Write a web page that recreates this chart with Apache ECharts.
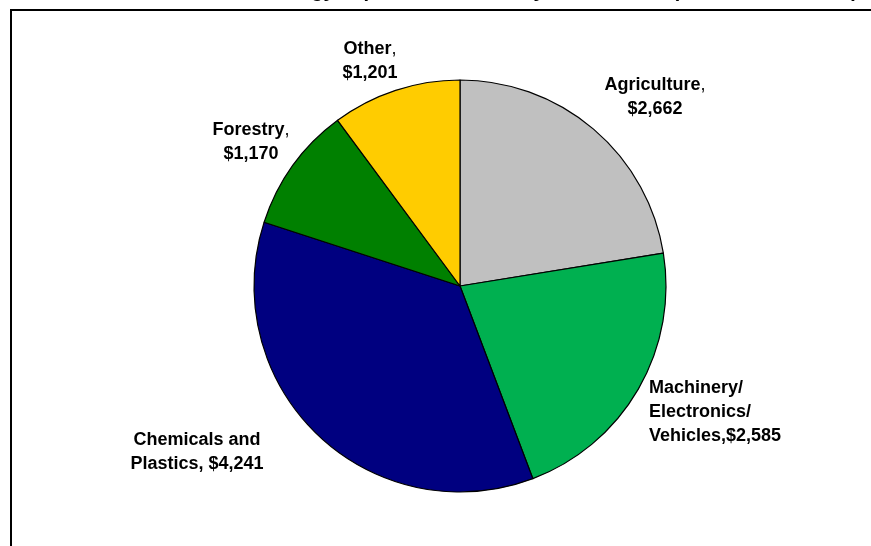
<!DOCTYPE html>
<html>
<head>
<meta charset="utf-8">
<script src="https://cdn.jsdelivr.net/npm/echarts@6/dist/echarts.min.js"></script>
<style>html,body{margin:0;padding:0;background:#fff;}#c{width:871px;height:546px;}</style>
</head>
<body>
<div id="c"></div>
<script>
const categories = ['Agriculture', 'Machinery/\nElectronics/\nVehicles', 'Chemicals and\nPlastics', 'Forestry', 'Other'];
const values = [2662, 2585, 4241, 1170, 1201];
const titleText = 'Biotechnology Imports to Canada by Sector, 2008 (Millions of Dollars)';

const colors = ['#C0C0C0', '#00B050', '#000080', '#008000', '#FFCC00'];
// label anchor layout (x, y, align)
const labelSpots = [
  {x: 655, y: 97, align: 'center'},
  {x: 649, y: 412, align: 'left'},
  {x: 197, y: 452, align: 'center'},
  {x: 251, y: 142, align: 'center'},
  {x: 370, y: 61, align: 'center'}
];

function fmt(v) { return '$' + v.toLocaleString('en-US'); }

function labelText(i) {
  const name = categories[i], v = fmt(values[i]);
  if (i === 1) return '{b|' + name + ',' + v + '}';
  if (i === 2) return '{b|' + name + ', ' + v + '}';
  return '{b|' + name + '}{n|,}\n{b|' + v + '}';
}

const chart = echarts.init(document.getElementById('c'), null, {renderer: 'canvas'});
const rich = {
  b: {fontFamily: 'Liberation Sans, Arial, sans-serif', fontWeight: 'bold', fontSize: 18, color: '#000', lineHeight: 24},
  n: {fontFamily: 'Liberation Sans, Arial, sans-serif', fontWeight: 'normal', fontSize: 18, color: '#000', lineHeight: 24}
};
chart.setOption({
  animation: false,
  backgroundColor: '#fff',
  graphic: [
    {type: 'rect', shape: {x: 11, y: 10, width: 900, height: 600}, style: {fill: 'none', stroke: '#000', lineWidth: 2}, z: 0},
    {type: 'text', x: 858, y: 1, style: {text: titleText, textAlign: 'right', textVerticalAlign: 'bottom', font: 'bold 20px Liberation Sans, Arial, sans-serif', fill: '#000'}, z: 10}
  ],
  series: [{
    type: 'pie',
    center: [460, 286],
    radius: 206,
    startAngle: 90,
    clockwise: true,
    silent: true,
    data: categories.map((c, i) => ({name: c, value: values[i], itemStyle: {color: colors[i]}})),
    itemStyle: {borderColor: '#000', borderWidth: 1.2},
    label: {
      show: true,
      position: 'outside',
      formatter: p => labelText(p.dataIndex),
      rich: rich,
      color: '#000'
    },
    labelLine: {show: false},
    labelLayout: function (p) {
      const s = labelSpots[p.dataIndex];
      return {x: s.x, y: s.y, align: s.align, verticalAlign: 'middle', hideOverlap: false, moveOverlap: null};
    }
  }]
});
</script>
</body>
</html>
